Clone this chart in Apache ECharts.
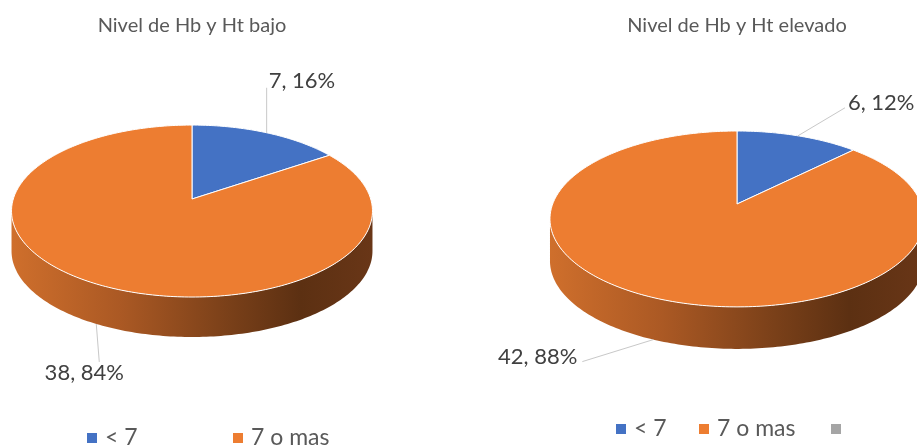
<!DOCTYPE html>
<html>
<head>
<meta charset="utf-8">
<script src="https://cdn.jsdelivr.net/npm/echarts@6/dist/echarts.min.js"></script>
<style>
  html, body { margin: 0; padding: 0; background: #fff; }
  #chart { width: 917px; height: 446px; }
</style>
</head>
<body>
<div id="chart"></div>
<script>
// Categories and values for the two pies
const categories = ['< 7', '7 o mas'];
const pieTitles = ['Nivel de Hb y Ht bajo', 'Nivel de Hb y Ht elevado'];
const bajoValues = [7, 38];
const elevadoValues = [6, 42];
const bajoPercentLabels = ['16%', '84%'];
const elevadoPercentLabels = ['12%', '88%'];

const pieValues = [bajoValues, elevadoValues];
const piePercents = [bajoPercentLabels, elevadoPercentLabels];

const FONT = 'Lato, "Open Sans", sans-serif';
const sliceColors = ['#4472C4', '#ED7D31'];
const legendGray = '#A5A5A5';

// Geometry of each tilted disc: centre, radii, perspective factor, wall depth,
// and where each data label sits relative to its slice
const pieLayouts = [
  {
    cx: 192, cy: 199, A: 178.7, B: 84.3, k: 0.14, depth: 40,
    labels: [
      { line: [0, -45], text: [2, -7], align: 'left' },
      { line: [3, 38], text: [-15, 11], align: 'center' }
    ],
    titleX: 192, legendX: [87, 233], legendY: 438
  },
  {
    cx: 737, cy: 204, A: 184.3, B: 85.4, k: 0.17, depth: 42,
    labels: [
      { line: [47, -28], text: [3, -5], align: 'left' },
      { line: [-71, 22], text: [-5, -5], align: 'right' }
    ],
    titleX: 737, legendX: [616, 699, 831], legendY: 429
  }
];

function project(L, thetaDeg, r, dz) {
  const t = thetaDeg * Math.PI / 180;
  const u = r * Math.sin(t);
  const v = -r * Math.cos(t);
  const w = 1 - L.k * v;
  return [L.cx + L.A * u / w, L.cy + L.B * v / w + dz];
}

function arc(L, a, b, dz) {
  const pts = [];
  const n = Math.max(2, Math.ceil(Math.abs(b - a) / 1));
  for (let i = 0; i <= n; i++) {
    pts.push(project(L, a + (b - a) * i / n, 1, dz));
  }
  return pts;
}

function makeRenderItem(pieIndex) {
  const L = pieLayouts[pieIndex];
  const values = pieValues[pieIndex];
  const total = values.reduce((s, x) => s + x, 0);
  const visDeg = Math.asin(L.k) * 180 / Math.PI;
  const vis0 = 90 + visDeg, vis1 = 270 - visDeg;
  const halfW = L.A / Math.sqrt(1 - L.k * L.k);
  const wallFill = new echarts.graphic.LinearGradient(
    L.cx - halfW, 0, L.cx + halfW, 0,
    [
      { offset: 0, color: '#CF6F2C' },
      { offset: 0.3, color: '#AB5924' },
      { offset: 0.6, color: '#7A4019' },
      { offset: 0.8, color: '#5C3012' },
      { offset: 1, color: '#693617' }
    ],
    true
  );

  return function (params, api) {
    const i = params.dataIndex;
    const before = values.slice(0, i).reduce((s, x) => s + x, 0);
    const start = before / total * 360;
    const end = start + api.value(0) / total * 360;
    const children = [];

    // top face of the slice
    const topPts = [[L.cx, L.cy]].concat(arc(L, start, end, 0));
    children.push({
      type: 'polygon',
      shape: { points: topPts },
      style: { fill: sliceColors[i], stroke: '#ffffff', lineWidth: 1 },
      z2: 10
    });

    // front wall where the slice faces the viewer
    const a = Math.max(start, vis0), b = Math.min(end, vis1);
    if (a < b) {
      const wallPts = arc(L, a, b, 0).concat(arc(L, b, a, L.depth));
      children.push({
        type: 'polygon',
        shape: { points: wallPts },
        style: { fill: wallFill },
        z2: 1
      });
    }

    // leader line and data label
    const mid = (start + end) / 2;
    const onWall = mid > vis0 && mid < vis1;
    const anchor = project(L, mid, 1, onWall ? L.depth : 0);
    const lab = L.labels[i];
    const lineEnd = [anchor[0] + lab.line[0], anchor[1] + lab.line[1]];
    children.push({
      type: 'polyline',
      shape: { points: [anchor, lineEnd] },
      style: { stroke: '#C8C8C8', lineWidth: 1, fill: null },
      z2: 20
    });
    children.push({
      type: 'text',
      style: {
        text: api.value(0) + ', ' + piePercents[pieIndex][i],
        x: lineEnd[0] + lab.text[0],
        y: lineEnd[1] + lab.text[1],
        align: lab.align,
        verticalAlign: 'middle',
        font: '22px ' + FONT,
        fill: '#404040'
      },
      z2: 20
    });

    return { type: 'group', children: children };
  };
}

// titles and legends
const graphics = [];
pieLayouts.forEach((L, p) => {
  graphics.push({
    type: 'text',
    x: L.titleX, y: 26,
    style: {
      text: pieTitles[p], align: 'center', verticalAlign: 'middle',
      font: '20px ' + FONT, fill: '#595959'
    }
  });
  const names = p === 1 ? categories.concat(['']) : categories;
  names.forEach((name, j) => {
    const color = j < sliceColors.length ? sliceColors[j] : legendGray;
    graphics.push({
      type: 'rect',
      shape: { x: L.legendX[j], y: L.legendY - 5, width: 10, height: 10 },
      style: { fill: color }
    });
    if (name) {
      graphics.push({
        type: 'text',
        x: L.legendX[j] + 18, y: L.legendY,
        style: {
          text: name, align: 'left', verticalAlign: 'middle',
          font: '23px ' + FONT, fill: '#595959'
        }
      });
    }
  });
});

const chart = echarts.init(document.getElementById('chart'), null, { renderer: 'canvas' });
chart.setOption({
  animation: false,
  backgroundColor: '#ffffff',
  graphic: graphics,
  series: pieValues.map((vals, p) => ({
    type: 'custom',
    name: pieTitles[p],
    coordinateSystem: 'none',
    renderItem: makeRenderItem(p),
    data: vals.map((v, j) => ({ name: categories[j], value: [v] }))
  }))
});
</script>
</body>
</html>
